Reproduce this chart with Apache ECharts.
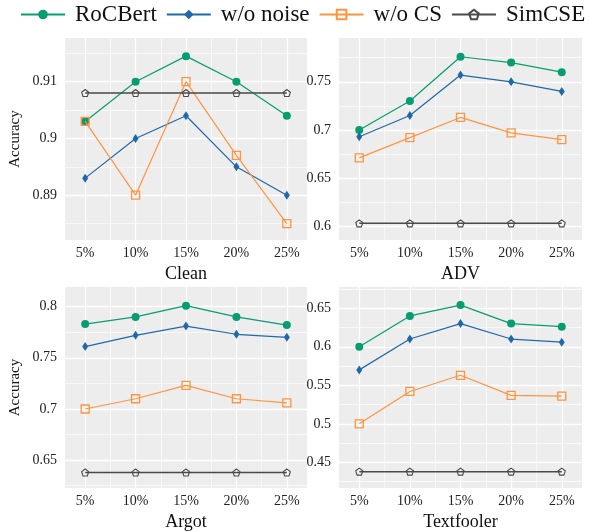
<!DOCTYPE html>
<html>
<head>
<meta charset="utf-8">
<script src="https://cdn.jsdelivr.net/npm/echarts@6/dist/echarts.min.js"></script>
<style>html,body{margin:0;padding:0;background:#fff}#c{width:589px;height:532px}</style>
</head>
<body>
<div id="c"></div>
<script>
// ---- data ----
const categories = ['5%', '10%', '15%', '20%', '25%'];
const xValues = [5, 10, 15, 20, 25];
const xRange = [3, 27];
const seriesNames = ['RoCBert', 'w/o noise', 'w/o CS', 'SimCSE'];
const panelNames = ['Clean', 'ADV', 'Argot', 'Textfooler'];

const clean_RoCBert = [0.903, 0.910, 0.9145, 0.910, 0.904];
const clean_noNoise = [0.893, 0.900, 0.904, 0.895, 0.890];
const clean_noCS    = [0.903, 0.890, 0.910, 0.897, 0.885];
const clean_SimCSE  = [0.908, 0.908, 0.908, 0.908, 0.908];

const adv_RoCBert = [0.700, 0.730, 0.776, 0.770, 0.760];
const adv_noNoise = [0.693, 0.715, 0.757, 0.750, 0.740];
const adv_noCS    = [0.671, 0.692, 0.713, 0.697, 0.690];
const adv_SimCSE  = [0.603, 0.603, 0.603, 0.603, 0.603];

const argot_RoCBert = [0.783, 0.790, 0.801, 0.790, 0.782];
const argot_noNoise = [0.761, 0.772, 0.781, 0.773, 0.770];
const argot_noCS    = [0.700, 0.710, 0.723, 0.710, 0.706];
const argot_SimCSE  = [0.638, 0.638, 0.638, 0.638, 0.638];

const tf_RoCBert = [0.600, 0.640, 0.654, 0.630, 0.626];
const tf_noNoise = [0.570, 0.610, 0.630, 0.610, 0.606];
const tf_noCS    = [0.500, 0.542, 0.563, 0.537, 0.536];
const tf_SimCSE  = [0.438, 0.438, 0.438, 0.438, 0.438];

const clean_yTicks = [0.89, 0.9, 0.91];
const adv_yTicks   = [0.6, 0.65, 0.7, 0.75];
const argot_yTicks = [0.65, 0.7, 0.75, 0.8];
const tf_yTicks    = [0.45, 0.5, 0.55, 0.6, 0.65];

const clean_yRange = [0.8821, 0.9177];
const adv_yRange   = [0.5857, 0.7955];
const argot_yRange = [0.6228, 0.8192];
const tf_yRange    = [0.4168, 0.6775];

// ---- layout / style ----
const panels = [
  {name: panelNames[0], data: [clean_RoCBert, clean_noNoise, clean_noCS, clean_SimCSE], ticks: clean_yTicks, range: clean_yRange, grid: {left: 65, top: 38, width: 242, height: 202}, ylabel: true},
  {name: panelNames[1], data: [adv_RoCBert, adv_noNoise, adv_noCS, adv_SimCSE], ticks: adv_yTicks, range: adv_yRange, grid: {left: 339, top: 38, width: 243, height: 202}, ylabel: false},
  {name: panelNames[2], data: [argot_RoCBert, argot_noNoise, argot_noCS, argot_SimCSE], ticks: argot_yTicks, range: argot_yRange, grid: {left: 65, top: 287, width: 242, height: 202}, ylabel: true},
  {name: panelNames[3], data: [tf_RoCBert, tf_noNoise, tf_noCS, tf_SimCSE], ticks: tf_yTicks, range: tf_yRange, grid: {left: 339, top: 287, width: 243, height: 202}, ylabel: false}
];

const FONT = 'Liberation Serif';
const GREEN = '#079d70', BLUE = '#2068a8', ORANGE = '#ff9440', DARK = '#4a4a4a';
const pentagon = 'path://M0,-10 L9.51,-3.09 L5.88,8.09 L-5.88,8.09 L-9.51,-3.09 Z';
const styles = [
  {symbol: 'circle', symbolSize: 8, itemStyle: {color: GREEN}, lineStyle: {color: GREEN, width: 1.2}},
  {symbol: 'diamond', symbolSize: [6, 9], itemStyle: {color: BLUE}, lineStyle: {color: BLUE, width: 1.2}},
  {symbol: 'rect', symbolSize: 8, itemStyle: {color: 'rgba(255,255,255,0)', borderColor: ORANGE, borderWidth: 1.3}, lineStyle: {color: ORANGE, width: 1.2}},
  {symbol: pentagon, symbolSize: 7, itemStyle: {color: 'rgba(255,255,255,0)', borderColor: DARK, borderWidth: 1.1}, lineStyle: {color: DARK, width: 1.5}}
];

function minorOf(ticks, range) {
  const step = ticks[1] - ticks[0];
  const out = [];
  for (let v = ticks[0] - step / 2; v <= range[1]; v += step) {
    if (v >= range[0]) out.push(+v.toFixed(6));
  }
  return out;
}
const xMinor = minorOf(xValues, xRange);

const grid = [], xAxis = [], yAxis = [], series = [];
panels.forEach((p, i) => {
  grid.push(Object.assign({show: true, backgroundColor: '#ededed', borderWidth: 0, containLabel: false}, p.grid));
  xAxis.push({
    type: 'value', gridIndex: i, min: xRange[0], max: xRange[1],
    name: p.name, nameLocation: 'middle', nameGap: 25,
    nameTextStyle: {fontFamily: FONT, fontSize: 18, color: '#111'},
    axisLine: {show: false}, axisTick: {show: false, customValues: xValues},
    axisLabel: {customValues: xValues, formatter: v => categories[xValues.indexOf(v)] || '', fontFamily: FONT, fontSize: 14, color: '#222', margin: 6},
    splitLine: {show: true, lineStyle: {color: '#ffffff', width: 1.3}}
  });
  xAxis.push({
    type: 'value', gridIndex: i, min: xRange[0], max: xRange[1], position: 'top',
    axisLine: {show: false}, axisTick: {show: false, customValues: xMinor},
    axisLabel: {show: false, customValues: xMinor},
    splitLine: {show: true, lineStyle: {color: '#ffffff', width: 0.6}}
  });
  const yMinor = minorOf(p.ticks, p.range);
  yAxis.push({
    type: 'value', gridIndex: i, min: p.range[0], max: p.range[1],
    name: p.ylabel ? 'Accuracy' : '', nameLocation: 'middle', nameGap: 42,
    nameTextStyle: {fontFamily: FONT, fontSize: 15, color: '#111'},
    axisLine: {show: false}, axisTick: {show: false, customValues: p.ticks},
    axisLabel: {customValues: p.ticks, formatter: v => String(+v.toFixed(4)), fontFamily: FONT, fontSize: 14, color: '#222', margin: 8},
    splitLine: {show: true, lineStyle: {color: '#ffffff', width: 1.3}}
  });
  yAxis.push({
    type: 'value', gridIndex: i, min: p.range[0], max: p.range[1], position: 'right',
    axisLine: {show: false}, axisTick: {show: false, customValues: yMinor},
    axisLabel: {show: false, customValues: yMinor},
    splitLine: {show: true, lineStyle: {color: '#ffffff', width: 0.6}}
  });
  p.data.forEach((vals, k) => {
    series.push(Object.assign({
      type: 'line', name: seriesNames[k], xAxisIndex: 2 * i, yAxisIndex: 2 * i,
      data: vals.map((v, j) => [xValues[j], v]),
      showAllSymbol: true, animation: false, z: 2 + k
    }, styles[k]));
  });
});

const chart = echarts.init(document.getElementById('c'), null, {renderer: 'canvas'});
chart.setOption({
  animation: false,
  legend: {
    data: seriesNames, top: 3, left: 20, width: 589, padding: 0, itemWidth: 44, itemHeight: 12, itemGap: 9,
    textStyle: {fontFamily: FONT, fontSize: 23, color: '#111', padding: [0, 0, 0, 5]}
  },
  grid, xAxis, yAxis, series
});
</script>
</body>
</html>
